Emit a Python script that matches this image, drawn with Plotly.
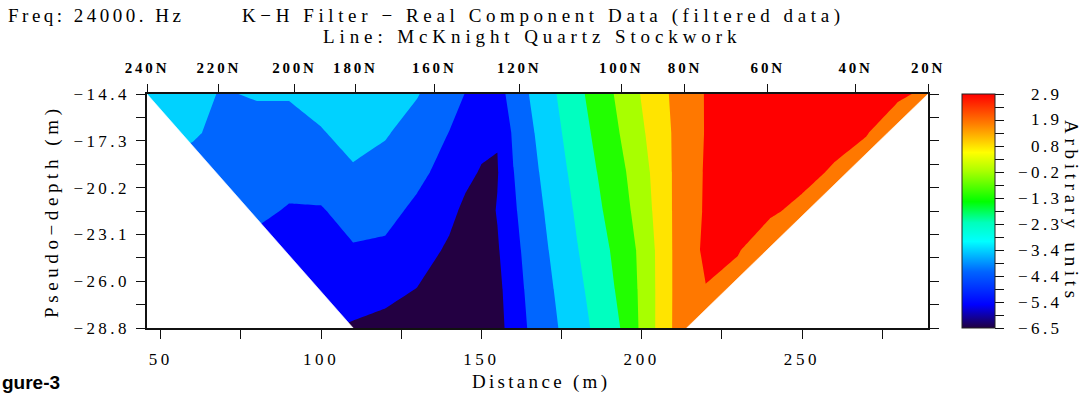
import numpy as np
import plotly.graph_objects as go

# ---- pseudo-section grid -------------------------------------------------
distance = [40, 50, 60, 70, 80, 90, 100, 110, 120, 130, 140, 145, 150, 155, 160,
            165, 170, 180, 190, 195, 200, 210, 220, 230, 240, 250, 260, 270, 280, 290]
depth = [-14.4, -16.8, -19.2, -21.6, -24.0, -26.4, -28.8]

# filtered real-component values (arbitrary units), one list per depth row
row_14_4 = [-3.12, -3.21, -3.30, -3.82, -3.49, -3.49, -3.21, -3.21, -3.35, -3.63,
            -4.30, -4.64, -5.09, -4.94, -4.30, -3.66, -3.11, -2.03, -1.00, -0.45,
            0.14, 1.18, 2.01, 2.34, 2.52, 2.52, 2.43, 2.29, 2.10, 1.77]
row_16_8 = [-3.21, -3.35, -3.57, -3.96, -4.53, -4.53, -3.77, -3.26, -3.60, -4.06,
            -4.64, -5.04, -5.28, -5.51, -4.48, -3.86, -3.29, -2.22, -1.20, -0.65,
            -0.05, 1.11, 2.01, 2.34, 2.43, 2.38, 2.24, 2.01, 1.40, 1.07]
row_19_2 = [-3.77, -3.87, -4.06, -4.15, -4.24, -4.29, -4.15, -3.82, -4.01, -4.34,
            -5.04, -5.33, -5.63, -5.61, -4.64, -4.03, -3.45, -2.42, -1.40, -0.88,
            -0.27, 1.10, 2.05, 2.29, 2.34, 2.20, 1.87, 1.49, 1.21, 0.93]
row_21_6 = [-4.24, -4.34, -4.43, -4.39, -4.43, -4.70, -4.70, -4.24, -4.29, -4.86,
            -5.33, -5.75, -5.98, -5.51, -4.75, -4.18, -3.63, -2.60, -1.59, -1.07,
            -0.42, 1.10, 2.07, 2.20, 2.07, 1.77, 1.49, 1.21, 1.07, 0.83]
row_24_0 = [-4.71, -4.81, -4.86, -4.90, -4.90, -4.95, -4.86, -4.71, -4.81, -5.14,
            -5.70, -6.03, -6.12, -5.65, -4.90, -4.30, -3.78, -2.77, -1.81, -1.27,
            -0.64, 1.10, 2.15, 2.01, 1.49, 1.21, 1.07, 0.83, 0.64, 0.46]
row_26_4 = [-5.00, -5.04, -5.09, -5.14, -5.18, -5.23, -5.18, -5.18, -5.28, -5.58,
            -6.03, -6.12, -6.17, -5.80, -5.05, -4.41, -3.93, -2.95, -1.99, -1.40,
            -0.67, 1.10, 1.93, 1.68, 1.40, 1.11, 0.93, 0.74, 0.55, 0.36]
row_28_8 = [-5.28, -5.33, -5.37, -5.42, -5.47, -5.47, -5.47, -5.65, -5.84, -6.03,
            -6.12, -6.12, -6.08, -5.84, -5.21, -4.52, -4.06, -3.11, -2.17, -1.61,
            -0.67, 1.11, 1.77, 1.49, 1.21, 0.93, 0.74, 0.55, 0.36, 0.17]

# first / last data point along each depth row (outline of the section)
row_start = [45.7, 56.4, 67.1, 77.9, 88.6, 99.3, 110.0]
row_end = [289.3, 276.7, 264.2, 251.6, 239.1, 226.5, 214.0]

# stations along the line
station_pos = [45.7, 68.1, 91.7, 110.7, 135.3, 161.8, 193.6, 213.5, 239.3, 266.7, 289.3]
station_names = ["240N", "220N", "200N", "180N", "160N", "120N",
                 "100N", "80N", "60N", "40N", "20N"]

# axis ticks
distance_ticks = [50, 100, 150, 200, 250]
distance_minor = [75, 125, 175, 225, 275]
depth_ticks = [-14.4, -17.28, -20.16, -23.04, -25.92, -28.8]
depth_labels = ["−14.4", "−17.3", "−20.2", "−23.1", "−26.0", "−28.8"]

# contour levels and colour key
level_start, level_end, level_size = -5.56, 1.96, 0.94
band_colors = ["#230042", "#0000ff", "#0066ff", "#00d2ff", "#00ffc0",
               "#22ff00", "#a8ff00", "#ffe400", "#ff7800", "#ff0000"]
cbar_min, cbar_max = -6.5, 2.9
cbar_labels = ["−6.5", "−5.4", "−4.4", "−3.4", "−2.3", "−1.3", "−0.2", "0.8", "1.9", "2.9"]
jet = [[0.0, "#200040"], [0.1, "#0000ff"], [0.24, "#0064ff"], [0.37, "#00ffff"],
       [0.45, "#00ffbb"], [0.54, "#00ff00"], [0.67, "#aaff00"], [0.75, "#ffff00"],
       [0.87, "#ff8000"], [1.0, "#ff0000"]]

SERIF = "Liberation Serif, DejaVu Serif, serif"


def spaced(text, px):
    return f'<span style="letter-spacing:{px}px">{text}</span>'


# step colour scale: one flat block per filled band
n_bands = len(band_colors)
step_scale = []
for j, c in enumerate(band_colors):
    lo = max(0.0, (j - 0.5) / (n_bands - 1))
    hi = min(1.0, (j + 0.5) / (n_bands - 1))
    step_scale += [[lo, c], [hi, c]]

z = [row_14_4, row_16_8, row_19_2, row_21_6, row_24_0, row_26_4, row_28_8]

fig = go.Figure()

fig.add_trace(go.Contour(
    x=distance, y=depth, z=z,
    colorscale=step_scale, showscale=False,
    contours=dict(start=level_start, end=level_end, size=level_size,
                  coloring="fill", showlines=False),
    line=dict(width=0, smoothing=0), hoverinfo="skip",
))

# blank out the area outside the measured section
x_lo, x_hi = distance[0], distance[-1]
fig.add_trace(go.Scatter(
    x=[x_lo] + row_start + [x_lo], y=[depth[0]] + depth + [depth[-1]],
    mode="lines", fill="toself", fillcolor="white",
    line=dict(width=0.6, color="white"), hoverinfo="skip", showlegend=False,
))
fig.add_trace(go.Scatter(
    x=[x_hi] + row_end + [x_hi], y=[depth[0]] + depth + [depth[-1]],
    mode="lines", fill="toself", fillcolor="white",
    line=dict(width=0.6, color="white"), hoverinfo="skip", showlegend=False,
))

# continuous colour key
cbar_ticks = list(np.linspace(cbar_min, cbar_max, 2 * len(cbar_labels) - 1))
fig.add_trace(go.Scatter(
    x=[None], y=[None], mode="markers", showlegend=False, hoverinfo="skip",
    marker=dict(color=[cbar_min], colorscale=jet, cmin=cbar_min, cmax=cbar_max,
                showscale=True,
                colorbar=dict(x=(962 - 147) / 781, xanchor="left", xpad=0, ypad=0,
                              y=0.5, yanchor="middle", len=1, lenmode="fraction",
                              thickness=33, thicknessmode="pixels",
                              outlinewidth=1, outlinecolor="#222",
                              tickmode="array", tickvals=cbar_ticks,
                              ticks="outside", ticklen=9, tickwidth=1.2,
                              tickcolor="#111", showticklabels=False)),
))
fig.add_trace(go.Scatter(x=[None], y=[None], xaxis="x2", showlegend=False,
                         hoverinfo="skip"))

x_range = [row_start[0], row_end[0]]
axis_line = dict(showline=True, linecolor="#111", linewidth=1.6, showgrid=False,
                 zeroline=False, ticks="outside", ticklen=9, tickwidth=1.2,
                 tickcolor="#111", automargin=False)

fig.update_layout(
    width=1092, height=398,
    margin=dict(l=147, r=164, t=94, b=70, pad=0),
    paper_bgcolor="white", plot_bgcolor="white",
    font=dict(family=SERIF, size=17, color="black"),
    xaxis=dict(range=x_range, tickmode="array", tickvals=distance_ticks,
               ticktext=[spaced(str(v), 3.6) for v in distance_ticks],
               minor=dict(tickmode="array", tickvals=distance_minor, ticks="outside",
                          ticklen=9, tickwidth=1.2, tickcolor="#111"),
               mirror=True, ticklabelstandoff=6, **axis_line),
    xaxis2=dict(range=x_range, overlaying="x", side="top", tickmode="array",
                tickvals=station_pos, ticktext=[spaced(s, 2.8) for s in station_names],
                tickfont=dict(family=SERIF, size=15, weight="bold"),
                showline=False, showgrid=False, zeroline=False, ticks="outside",
                ticklen=9, tickwidth=1.2, tickcolor="#111", ticklabelstandoff=5,
                automargin=False),
    yaxis=dict(range=[depth[-1], depth[0]], tickmode="array", tickvals=depth_ticks,
               ticktext=[spaced(s, 3.4) for s in depth_labels],
               minor=dict(tickmode="array",
                          tickvals=[(a + b) / 2 for a, b in zip(depth_ticks[:-1], depth_ticks[1:])],
                          ticks="outside", ticklen=9, tickwidth=1.2, tickcolor="#111"),
               mirror="allticks", ticklabelstandoff=3, **axis_line),
    showlegend=False,
)

W, H = 781, 234


def px(xp):
    return (xp - 147) / W


def py(yp):
    return (328 - yp) / H


annotations = [
    dict(text=spaced("Freq: 24000. Hz", 3.5), x=px(6), y=py(15), xanchor="left",
         font=dict(size=19)),
    dict(text=spaced("K−H Filter − Real Component Data (filtered data)", 4.6),
         x=px(543), y=py(16), xanchor="center", font=dict(size=19)),
    dict(text=spaced("Line: McKnight Quartz Stockwork", 4.9),
         x=px(532), y=py(37), xanchor="center", font=dict(size=19)),
    dict(text=spaced("Distance (m)", 3.3), x=px(541), y=py(382), xanchor="center",
         font=dict(size=19)),
    dict(text=spaced("Pseudo−depth (m)", 4.6), x=px(52), y=0.5, textangle=-90,
         xanchor="center", font=dict(size=19)),
    dict(text=spaced("Arbitrary units", 4.7), x=px(1072), y=0.5, textangle=90,
         xanchor="center", font=dict(size=19)),
    dict(text="<b>gure-3</b>", x=px(0), y=py(382), xanchor="left",
         font=dict(family="Liberation Sans", size=19)),
]
for v, lab in zip(np.linspace(cbar_min, cbar_max, len(cbar_labels)), cbar_labels):
    annotations.append(dict(text=spaced(lab, 3.4), x=px(1064), xanchor="right",
                            y=(v - cbar_min) / (cbar_max - cbar_min)))
for a in annotations:
    a.setdefault("xref", "paper")
    a.setdefault("yref", "paper")
    a.setdefault("yanchor", "middle")
    a.setdefault("showarrow", False)
    a.setdefault("font", dict(size=17))
    a["font"].setdefault("family", SERIF)
    a["font"].setdefault("color", "black")
fig.update_layout(annotations=annotations)

fig.write_html("out.html")
